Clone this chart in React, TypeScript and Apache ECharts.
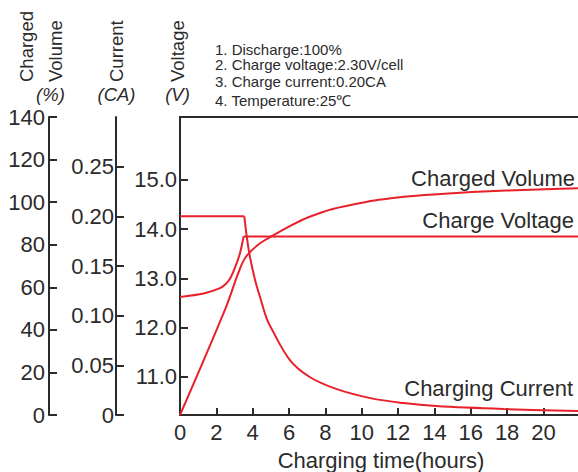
import React, { useEffect, useRef } from "react";
import * as echarts from "echarts";

// ---- data ----
const hourTicks = [0, 2, 4, 6, 8, 10, 12, 14, 16, 18, 20];
const voltageTicks = [11, 12, 13, 14, 15];

// [hours, %]
const chargedVolume: [number, number][] = [
  [0, 0], [2.5, 50], [3.2, 66.5], [3.6, 74], [4.3, 80], [5.2, 84.7],
  [6.2, 89.4], [7.1, 93], [8.4, 96.8], [10.5, 100.5], [11.6, 101.8],
  [13, 103], [15.2, 104.3], [17, 105.1], [18.9, 105.7], [21.9, 106.5],
];

// [hours, V] - rise, then constant-voltage hold
const chargeVoltageRise: [number, number][] = [
  [0, 12.62], [1.3, 12.69], [2.2, 12.8], [2.5, 12.88], [2.75, 12.99],
  [3.03, 13.22], [3.3, 13.51], [3.5, 13.85],
];
const chargeVoltageHold: [number, number][] = [[3.5, 13.85], [21.9, 13.85]];

// [hours, CA] - constant current, then decay
const chargingCurrentHold: [number, number][] = [[0, 0.2], [3.54, 0.2]];
const chargingCurrentDecay: [number, number][] = [
  [3.54, 0.2], [3.67, 0.18], [3.85, 0.159], [4.13, 0.136],
  [4.4, 0.119], [4.77, 0.097], [5, 0.088], [6.06, 0.055], [7.16, 0.038],
  [8.63, 0.026], [10.47, 0.017], [12.3, 0.012], [14.1, 0.009],
  [17.8, 0.006], [21.9, 0.004],
];

const notes = [
  "1. Discharge:100%",
  "2. Charge voltage:2.30V/cell",
  "3. Charge current:0.20CA",
  "4. Temperature:25℃",
];

const FONT = "'Liberation Sans', Arial, Helvetica, sans-serif";
const TXT = "#2b2b2b";
const AX = "#2b2b2b";
const RED = "#e8202a";

function yAxisBase(offset: number, margin: number) {
  return {
    type: "value" as const,
    position: "left" as const,
    offset,
    axisLine: { show: true, onZero: false, lineStyle: { color: AX, width: 2 } },
    axisTick: { show: true, inside: true, length: 8, lineStyle: { color: AX, width: 2 } },
    axisLabel: { fontSize: 22, color: TXT, fontFamily: FONT, margin },
    splitLine: { show: false },
  };
}

function txt(text: string, x: number, y: number, extra: any = {}, el: any = {}) {
  return {
    type: "text",
    x,
    y,
    silent: true,
    ...el,
    style: {
      text,
      fill: TXT,
      fontFamily: FONT,
      fontSize: 22,
      align: "left",
      verticalAlign: "middle",
      ...extra,
    },
  };
}

export default function App() {
  const ref = useRef<HTMLDivElement>(null);

  useEffect(() => {
    if (!ref.current) return;
    const chart = echarts.init(ref.current, undefined, { renderer: "svg" });

    const v0 = yAxisBase(0, 3);
    const v1 = yAxisBase(64, 2);
    const v2 = yAxisBase(131, 4);

    const lineSeries = (name: string, yAxisIndex: number, data: [number, number][], smooth: number) => ({
      type: "line",
      name,
      yAxisIndex,
      data,
      symbol: "none",
      smooth,
      silent: true,
      lineStyle: { color: RED, width: 2 },
    });

    const titleRot = (t: string, x: number) =>
      txt(t, x, 82, { fontSize: 18.5 }, { rotation: Math.PI / 2 });
    const unit = (t: string, x: number) =>
      txt(t, x, 94, { fontSize: 18.5, fontStyle: "italic", align: "center" });

    chart.setOption({
      animation: false,
      grid: { left: 180, right: 0, top: 117, bottom: 57, containLabel: false },
      xAxis: [
        {
          type: "value",
          min: 0,
          max: 21.9,
          position: "bottom",
          axisLine: { show: true, onZero: false, lineStyle: { color: AX, width: 2 } },
          axisTick: {
            show: true,
            inside: true,
            length: 7,
            customValues: hourTicks,
            lineStyle: { color: AX, width: 2 },
          },
          axisLabel: {
            customValues: hourTicks,
            fontSize: 22,
            color: TXT,
            fontFamily: FONT,
            margin: 6,
          },
          splitLine: { show: false },
        },
        {
          type: "value",
          min: 0,
          max: 21.9,
          position: "top",
          axisLine: { show: true, onZero: false, lineStyle: { color: AX, width: 2 } },
          axisTick: { show: false },
          axisLabel: { show: false },
          splitLine: { show: false },
        },
      ],
      yAxis: [
        {
          ...v0,
          min: 10.22,
          max: 16.28,
          axisTick: { ...v0.axisTick, customValues: voltageTicks },
          axisLabel: {
            ...v0.axisLabel,
            customValues: voltageTicks,
            formatter: (v: number) => v.toFixed(1),
          },
        },
        {
          ...v1,
          min: 0,
          max: 0.3,
          interval: 0.05,
          axisLabel: {
            ...v1.axisLabel,
            showMaxLabel: false,
            formatter: (v: number) => (v === 0 ? "0" : v.toFixed(2)),
          },
        },
        {
          ...v2,
          min: 0,
          max: 140,
          interval: 20,
        },
      ],
      series: [
        lineSeries("Charged Volume", 2, chargedVolume, 0.35),
        lineSeries("Charge Voltage", 0, chargeVoltageRise, 0.3),
        lineSeries("Charge Voltage", 0, chargeVoltageHold, 0),
        lineSeries("Charging Current", 1, chargingCurrentHold, 0),
        lineSeries("Charging Current", 1, chargingCurrentDecay, 0.35),
      ],
      graphic: [
        titleRot("Charged", 26.3),
        titleRot("Volume", 55.3),
        titleRot("Current", 116.6),
        titleRot("Voltage", 177.5),
        unit("(%)", 50.5),
        unit("(CA)", 116.5),
        unit("(V)", 177.5),
        ...notes.map((n, i) => txt(n, 215, [49, 64.5, 81.7, 100.5][i], { fontSize: 15 })),
        txt("Charged Volume", 575, 178, { align: "right" }),
        txt("Charge Voltage", 574, 220, { align: "right" }),
        txt("Charging Current", 573, 388.5, { align: "right" }),
        txt("Charging time(hours)", 381, 460, { align: "center" }),
      ],
    });

    return () => chart.dispose();
  }, []);

  return (
    <div
      style={{ position: "fixed", left: 0, top: 0, width: 578, height: 472, overflow: "hidden", background: "#fff" }}
    >
      <div ref={ref} style={{ width: 578, height: 472 }} />
    </div>
  );
}
